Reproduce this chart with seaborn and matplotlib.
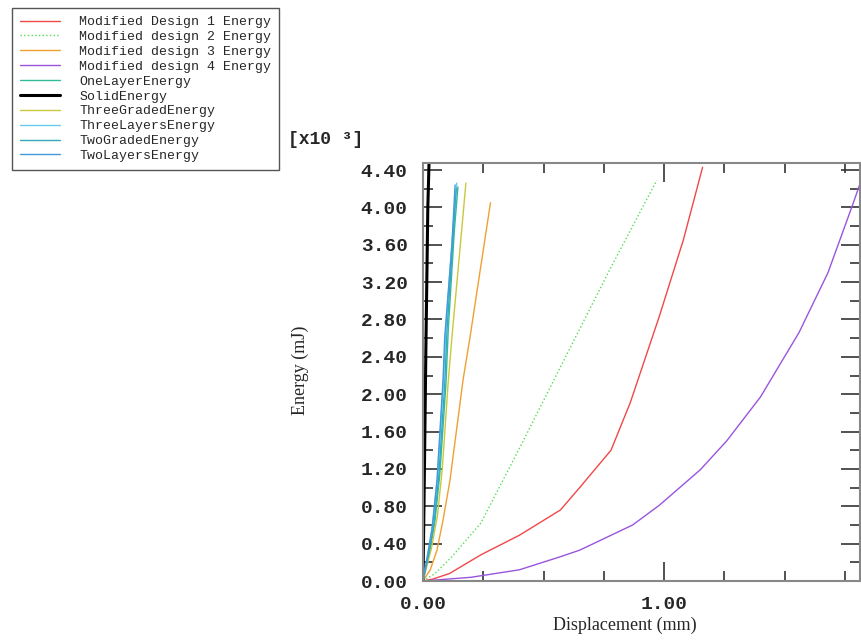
"""
Energy vs displacement for the different lattice designs.
"""

import pandas as pd
import seaborn as sns
import matplotlib.pyplot as plt
from matplotlib.ticker import MultipleLocator, FormatStrFormatter

# values (displacement in mm, energy in mJ x10^3)
series_names = [
    "Modified Design 1 Energy", "Modified design 2 Energy",
    "Modified design 3 Energy", "Modified design 4 Energy",
    "OneLayerEnergy", "SolidEnergy", "ThreeGradedEnergy",
    "ThreeLayersEnergy", "TwoGradedEnergy", "TwoLayersEnergy",
]
series_colors = ["#f04848", "#55dd55", "#f0a030", "#9955dd", "#33bb99",
                 "#000000", "#c8c83c", "#66ccee", "#33aabb", "#4499dd"]
series_dash = ["-", ":", "-", "-", "-", "-", "-", "-", "-", "-"]
series_width = [1.0, 1.0, 1.0, 1.0, 1.0, 2.2, 1.0, 1.0, 1.0, 1.0]

design1_x = [0, 0.04, 0.11, 0.24, 0.40, 0.57, 0.65, 0.78, 0.86, 0.98, 1.08, 1.16]
design1_y = [0, 0.02, 0.08, 0.28, 0.49, 0.76, 1.00, 1.40, 1.91, 2.83, 3.65, 4.43]
design2_x = [0, 0.05, 0.12, 0.24, 0.40, 0.57, 0.78, 0.97]
design2_y = [0, 0.08, 0.26, 0.62, 1.42, 2.29, 3.36, 4.29]
design3_x = [0, 0.03, 0.058, 0.083, 0.112, 0.166, 0.195, 0.28]
design3_y = [0, 0.12, 0.33, 0.65, 1.08, 2.15, 2.61, 4.05]
design4_x = [0, 0.2, 0.4, 0.57, 0.65, 0.87, 0.98, 1.15, 1.26, 1.40, 1.56, 1.68, 1.78, 1.86]
design4_y = [0, 0.04, 0.12, 0.26, 0.33, 0.60, 0.81, 1.19, 1.50, 1.97, 2.66, 3.30, 4.01, 4.60]
onelayer_x = [0, 0.03, 0.05, 0.07, 0.095, 0.105, 0.13, 0.145]
onelayer_y = [0, 0.35, 0.65, 1.15, 2.10, 2.70, 3.75, 4.22]
solid_x = [0, 0.005, 0.012, 0.02, 0.025]
solid_y = [0, 1.00, 2.50, 4.00, 4.48]
threegraded_x = [0, 0.035, 0.06, 0.08, 0.104, 0.12, 0.155, 0.178]
threegraded_y = [0, 0.35, 0.70, 1.20, 2.11, 2.61, 3.60, 4.26]
threelayers_x = [0, 0.022, 0.04, 0.06, 0.085, 0.095, 0.125, 0.14]
threelayers_y = [0, 0.30, 0.60, 1.10, 2.15, 2.70, 3.80, 4.26]
twograded_x = [0, 0.025, 0.045, 0.065, 0.09, 0.10, 0.128, 0.138]
twograded_y = [0, 0.30, 0.60, 1.10, 2.10, 2.70, 3.80, 4.20]
twolayers_x = [0, 0.02, 0.037, 0.058, 0.083, 0.09, 0.12, 0.133]
twolayers_y = [0, 0.30, 0.55, 1.08, 2.15, 2.61, 3.60, 4.24]

all_x = [design1_x, design2_x, design3_x, design4_x, onelayer_x, solid_x,
         threegraded_x, threelayers_x, twograded_x, twolayers_x]
all_y = [design1_y, design2_y, design3_y, design4_y, onelayer_y, solid_y,
         threegraded_y, threelayers_y, twograded_y, twolayers_y]

sns.set_style("white")

fig = plt.figure(figsize=(8.61, 6.40), dpi=100)
ax = fig.add_axes([423 / 861, 1 - 581 / 640, 437 / 861, 418 / 640])

for name, xs, ys, col, ls, lw in zip(series_names, all_x, all_y, series_colors,
                                     series_dash, series_width):
    df = pd.DataFrame({"Displacement": xs, "Energy": ys})
    sns.lineplot(data=df, x="Displacement", y="Energy", ax=ax, color=col,
                 linestyle=ls, linewidth=lw, sort=False, estimator=None,
                 label=name)

ax.set_xlim(0, 1.813)
ax.set_ylim(0, 4.475)
ax.set_xlabel("")
ax.set_ylabel("")

ax.xaxis.set_major_locator(MultipleLocator(1.0))
ax.xaxis.set_minor_locator(MultipleLocator(0.25))
ax.yaxis.set_major_locator(MultipleLocator(0.4))
ax.yaxis.set_minor_locator(MultipleLocator(0.2))
ax.xaxis.set_major_formatter(FormatStrFormatter("%.2f"))
ax.yaxis.set_major_formatter(FormatStrFormatter("%.2f"))

for lab in ax.get_xticklabels() + ax.get_yticklabels():
    lab.set_fontfamily("Liberation Mono")
    lab.set_fontweight("bold")
    lab.set_fontsize(14)

ax.tick_params(which="both", direction="in", top=True, right=True,
               bottom=True, left=True, color="#333333", width=1.2)
ax.tick_params(axis="y", which="major", length=14, pad=11)
ax.tick_params(axis="y", which="minor", length=7)
ax.tick_params(axis="x", which="major", length=14, pad=11)
ax.tick_params(axis="x", which="minor", length=7)

for sp in ax.spines.values():
    sp.set_color("#888888")
    sp.set_linewidth(1.5)

handles, labels = ax.get_legend_handles_labels()
ax.get_legend().remove()
leg = fig.legend(handles, labels, loc="upper left",
                 bbox_to_anchor=(12 / 861, 1 - 8 / 640), borderaxespad=0,
                 prop={"family": "Liberation Mono", "size": 9.5},
                 frameon=True, fancybox=False, framealpha=1,
                 edgecolor="#555555", handlelength=3.0, handletextpad=1.5,
                 labelspacing=0.2, borderpad=0.6)
leg.get_frame().set_linewidth(1.0)

fig.text(288 / 861, 1 - 140 / 640, "[x10 \u00b3]", family="Liberation Mono",
         weight="bold", size=13, ha="left", va="center")
fig.text(300 / 861, 1 - 370 / 640, "Energy (mJ)", family="Liberation Serif",
         size=13, rotation=90, ha="center", va="center")
fig.text(625 / 861, 1 - 625 / 640, "Displacement (mm)",
         family="Liberation Serif", size=13, ha="center", va="center")

fig.savefig("out.png", dpi=100)
